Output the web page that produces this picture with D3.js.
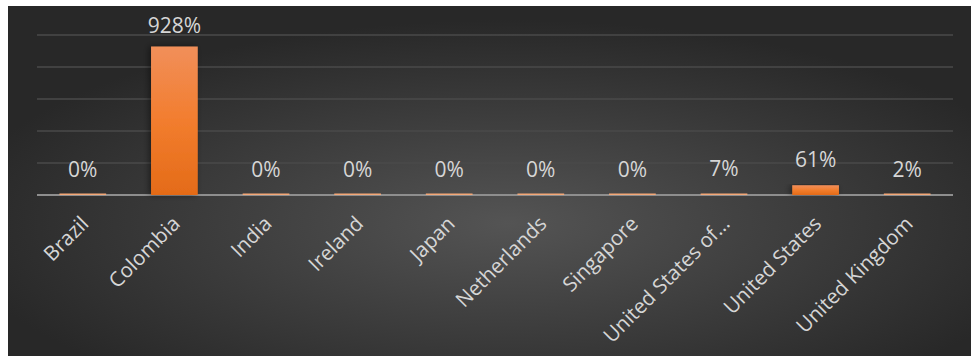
<!DOCTYPE html>
<html>
<head>
<meta charset="utf-8">
<script src="https://cdn.jsdelivr.net/npm/d3@7"></script>
<style>
  html, body { margin: 0; padding: 0; background: #ffffff; }
  svg { display: block; }
</style>
</head>
<body>
<svg width="971" height="356"></svg>
<script>
// data
const countries = ["Brazil", "Colombia", "India", "Ireland", "Japan", "Netherlands",
    "Singapore", "United States of…", "United States", "United Kingdom"];
const growth = [0, 928, 0, 0, 0, 0, 0, 7, 61, 2];
const yTicks = [0, 200, 400, 600, 800, 1000];

function drawChart() {
    const svg = d3.select("svg");
    const width = +svg.attr("width");
    const height = +svg.attr("height");

    const left = 37, right = 953, top = 35, axisY = 195;

    const defs = svg.append("defs");

    // dark background, lighter in the middle
    const bg = defs.append("radialGradient")
        .attr("id", "bg")
        .attr("cx", "52%").attr("cy", "62%").attr("r", "58%");
    bg.append("stop").attr("offset", "0%").attr("stop-color", "#545454");
    bg.append("stop").attr("offset", "100%").attr("stop-color", "#282828");

    const barFill = defs.append("linearGradient")
        .attr("id", "bar")
        .attr("x1", 0).attr("y1", 0).attr("x2", 0).attr("y2", 1);
    barFill.append("stop").attr("offset", "0%").attr("stop-color", "#f18f5a");
    barFill.append("stop").attr("offset", "50%").attr("stop-color", "#f27d2e");
    barFill.append("stop").attr("offset", "100%").attr("stop-color", "#e46b18");

    const shadow = defs.append("filter").attr("id", "shadow")
        .attr("x", "-30%").attr("y", "-10%").attr("width", "160%").attr("height", "120%");
    shadow.append("feDropShadow")
        .attr("dx", -2).attr("dy", 0).attr("stdDeviation", 3)
        .attr("flood-color", "#000").attr("flood-opacity", 0.45);

    svg.append("rect")
        .attr("x", 8).attr("y", 6)
        .attr("width", width - 8).attr("height", height - 6)
        .attr("fill", "url(#bg)");

    const x = d3.scaleBand()
        .domain(countries)
        .range([left, right])
        .paddingInner(0.49)
        .paddingOuter(0.245);

    const y = d3.scaleLinear()
        .domain([0, 1000])
        .range([axisY, top]);

    // gridlines
    svg.append("g")
        .selectAll("line")
        .data(yTicks.slice(1))
        .join("line")
        .attr("x1", left).attr("x2", right)
        .attr("y1", d => y(d)).attr("y2", d => y(d))
        .attr("stroke", "#4a4a4a")
        .attr("stroke-width", 1.3);

    // axis line
    svg.append("line")
        .attr("x1", left).attr("x2", right)
        .attr("y1", axisY).attr("y2", axisY)
        .attr("stroke", "#8e8e8e")
        .attr("stroke-width", 2);

    const data = countries.map((c, i) => ({ c, v: growth[i] }));

    // bars (zero bars still show as a thin light line)
    svg.append("g")
        .selectAll("rect")
        .data(data)
        .join("rect")
        .attr("x", d => x(d.c))
        .attr("width", x.bandwidth())
        .attr("y", d => Math.min(y(d.v), axisY - 1.5))
        .attr("height", d => Math.max(axisY - y(d.v), 1.5))
        .attr("fill", d => d.v > 20 ? "url(#bar)" : "#f4a878")
        .attr("filter", d => d.v > 20 ? "url(#shadow)" : null);

    // value labels
    svg.append("g")
        .selectAll("text")
        .data(data)
        .join("text")
        .attr("x", d => x(d.c) + x.bandwidth() / 2)
        .attr("y", d => Math.max(y(d.v) - 18, 33))
        .attr("text-anchor", "middle")
        .attr("font-family", "'Open Sans', sans-serif")
        .attr("font-size", 21)
        .attr("fill", "#d6d6d6")
        .text(d => d.v + "%");

    // category labels, rotated
    svg.append("g")
        .selectAll("text")
        .data(countries)
        .join("text")
        .attr("transform", d => `translate(${x(d) + x.bandwidth() / 2 + 7},${axisY + 30}) rotate(-45)`)
        .attr("text-anchor", "end")
        .attr("font-family", "'Open Sans', sans-serif")
        .attr("font-size", 20.5)
        .attr("fill", "#d6d6d6")
        .text(d => d);
}

drawChart();
</script>
</body>
</html>
